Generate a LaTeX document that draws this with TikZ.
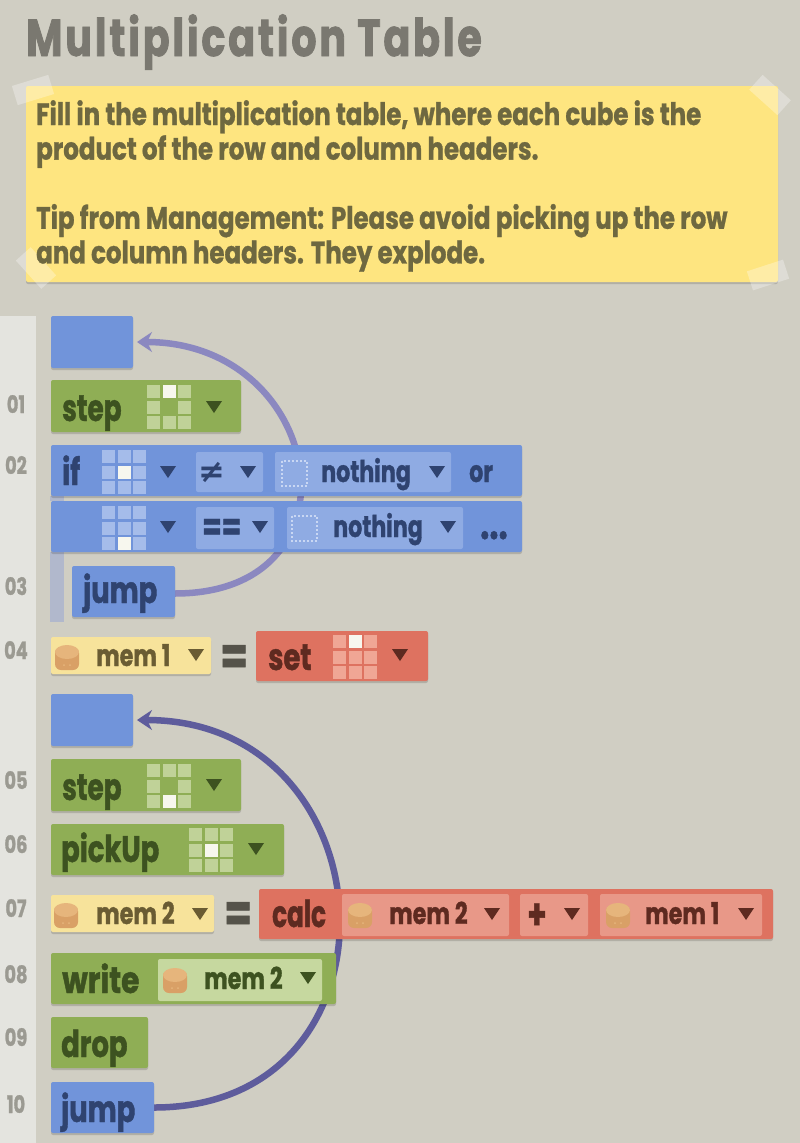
\documentclass[tikz,border=0pt]{standalone}
\usepackage{fontspec}
\usetikzlibrary{arrows.meta}
\usetikzlibrary{shadows}
\newfontfamily\gamefont[FakeStretch=0.74,FakeBold=1.1]{Poppins}
\newfontfamily\notefont[FakeStretch=0.79,FakeBold=0.9]{Poppins}
\newfontfamily\titlefont[FakeStretch=0.76,FakeBold=1.6,LetterSpace=5.5]{Poppins}
\newfontfamily\symfont{DejaVu Sans}

\definecolor{floorcol}{HTML}{D0CEC3}
\definecolor{guttercol}{HTML}{E4E4DF}
\definecolor{notecol}{HTML}{FEE580}
\definecolor{notetext}{HTML}{6E6840}
\definecolor{titlecol}{HTML}{7A7870}
\definecolor{numcol}{HTML}{9B9A92}
\definecolor{eqcol}{HTML}{55534A}
\definecolor{greencol}{HTML}{8FAE55}
\definecolor{greensub}{HTML}{C6D89F}
\definecolor{greencell}{HTML}{C0D298}
\definecolor{greentext}{HTML}{3D5220}
\definecolor{bluecol}{HTML}{7194DA}
\definecolor{bluesub}{HTML}{8FABE3}
\definecolor{bluecell}{HTML}{A5BCEA}
\definecolor{bluetext}{HTML}{2F4370}
\definecolor{redcol}{HTML}{DE7260}
\definecolor{redsub}{HTML}{E89888}
\definecolor{redcell}{HTML}{F0A695}
\definecolor{redtext}{HTML}{5E2A20}
\definecolor{varcol}{HTML}{F7E39B}
\definecolor{vartext}{HTML}{6A5C33}
\definecolor{barcol}{HTML}{B1B8CC}
\definecolor{hicol}{HTML}{F7F7EE}
\definecolor{cylcol}{HTML}{D9A066}
\definecolor{cyltop}{HTML}{E6B57C}
\definecolor{looplight}{HTML}{8B88C0}
\definecolor{loopdark}{HTML}{5E5C9C}

\tikzset{
every picture/.style={
line width=1pt
},
blockbase/.style={rectangle,draw=none,inner sep=0pt,outer sep=0pt,rounded corners=2pt,
  drop shadow={shadow xshift=0pt,shadow yshift=-2pt,fill=black,opacity=.15}},
flatbase/.style={rectangle,draw=none,inner sep=0pt,outer sep=0pt,rounded corners=2pt},
greenblock/.style={blockbase,fill=greencol},
blueblock/.style={blockbase,fill=bluecol},
redblock/.style={blockbase,fill=redcol},
varblock/.style={blockbase,fill=varcol},
greenarg/.style={flatbase,fill=greensub},
bluearg/.style={flatbase,fill=bluesub},
redarg/.style={flatbase,fill=redsub},
tape/.style={rectangle,fill=white,opacity=.3,inner sep=0pt,minimum width=38pt,minimum height=20pt},
verb/.style={anchor=base west,inner sep=0pt,font=\gamefont\bfseries\fontsize{37}{37}\selectfont},
argtext/.style={anchor=base west,inner sep=0pt,font=\gamefont\bfseries\fontsize{30}{30}\selectfont},
eqsign/.style={anchor=base west,inner sep=0pt,text=eqcol,font=\gamefont\bfseries\fontsize{54}{54}\selectfont},
linenum/.style={anchor=base,inner sep=0pt,text=numcol,font=\gamefont\bfseries\fontsize{24}{24}\selectfont},
loopline/.style={line width=6.5pt,-{Stealth[length=15pt,width=20pt]},shorten >=4pt},
}

% rectangle block given by its corners
\newcommand{\blk}[6]{\node [#1,minimum width={#4-#2},minimum height={#5-#3}] at ({(#2+#4)/2},{(#3+#5)/2}) (#6) {};}
% dropdown marker
\newcommand{\drop}[3]{\fill [#3] ({#1-8},{#2-6}) -- ({#1+8},{#2-6}) -- (#1,{#2+6}) -- cycle;}
% x, y, cell colour, column and row of the white cell, colour of the middle cell
\newcommand{\dirgrid}[6]{
  \foreach \cl in {0,1,2} \foreach \rw in {0,1,2}
    \fill [#3] ({#1+15.5*\cl},{#2+15.5*\rw}) rectangle +(13,13);
  \fill [#6] ({#1+15.5},{#2+15.5}) rectangle +(13,13);
  \fill [hicol] ({#1+15.5*#4},{#2+15.5*#5}) rectangle +(13,13);
}
% memory barrel
\newcommand{\barrel}[2]{
  \fill [cylcol,rounded corners=6pt] (#1,{#2+2}) rectangle ({#1+24},{#2+25});
  \fill [cyltop] ({#1+12},{#2+7}) ellipse (12 and 7);
  \fill [cyltop] ({#1+9},{#2+20}) circle (1);
  \fill [cyltop] ({#1+15},{#2+20}) circle (1);
}
% nothing marker
\newcommand{\nothingbox}[2]{
  \draw [bluecell!60!white,line width=2pt,dotted] (#1,#2) rectangle +(25,25);
}

\pgfdeclarelayer{floor}
\pgfdeclarelayer{loops}
\pgfsetlayers{floor,loops,main}

\begin{document}
\begin{tikzpicture}[x=1pt,y=-1pt]
  \useasboundingbox (0,0) rectangle (800,1143);
  \begin{pgfonlayer}{floor}
    \fill [floorcol] (0,0) rectangle (800,1143);
    \fill [guttercol] (0,316) rectangle (36,1143);
  \end{pgfonlayer}

  % heading and note
  \node [anchor=base west,inner sep=0pt,text=titlecol,font=\titlefont\bfseries\fontsize{52}{52}\selectfont] at (26,56) (title) {Multiplication Table};
  \blk{blockbase,fill=notecol}{26}{86}{778}{282}{note}
  \node [tape,rotate=17] at (33,90) (tapeA) {};
  \node [tape,rotate=-42] at (770,95) (tapeB) {};
  \node [tape,rotate=-48] at (36,268) (tapeC) {};
  \node [tape,rotate=18] at (768,275) (tapeD) {};
  \node [anchor=north west,inner sep=0pt,align=left,text=notetext,font=\notefont\bfseries\fontsize{31}{34.6}\selectfont] at (36,100) (notetext) {Fill in the multiplication table, where each cube is the\\product of the row and column headers.\\ \\Tip from Management: Please avoid picking up the row\\and column headers. They explode.};

  % line numbers
  \node [linenum] at (16,413) (numA) {01};
  \node [linenum] at (16,474) (numB) {02};
  \node [linenum] at (16,595) (numC) {03};
  \node [linenum] at (16,659) (numD) {04};
  \node [linenum] at (16,789) (numE) {05};
  \node [linenum] at (16,853) (numF) {06};
  \node [linenum] at (16,917) (numG) {07};
  \node [linenum] at (16,983) (numH) {08};
  \node [linenum] at (16,1046) (numI) {09};
  \node [linenum] at (16,1113) (numJ) {10};

  % first loop
  \blk{blueblock}{51}{316}{133}{368}{startA}
  \blk{greenblock}{51}{380}{241}{432}{stepA}
  \node [verb,text=greentext] at (62,421) (stepAtext) {\scalebox{.96}[1]{step}};
  \dirgrid{147}{385}{greencell}{1}{0}{greencol}
  \drop{214}{407}{greentext}

  \fill [barcol] (50,496) rectangle (64,501);
  \fill [barcol] (50,552) rectangle (64,622);
  \blk{blueblock}{51}{445}{522}{496}{ifA}
  \blk{blueblock}{51}{501}{522}{552}{ifB}
  \node [verb,text=bluetext] at (62,485) (iftext) {if};
  \dirgrid{102}{450}{bluecell}{1}{1}{bluecell}
  \drop{168}{472}{bluetext}
  \blk{bluearg}{196}{452}{263}{492}{neqbox}
  \node [inner sep=0pt,text=bluetext,font=\symfont\bfseries\fontsize{32}{32}\selectfont] at (212,472) (neqtext) {≠};
  \drop{248}{472}{bluetext}
  \blk{bluearg}{275}{452}{451}{492}{nothingA}
  \nothingbox{282}{461}
  \node [argtext,text=bluetext] at (321,482) (nothingAtext) {nothing};
  \drop{437}{472}{bluetext}
  \node [argtext,text=bluetext] at (469,482) (ortext) {or};

  \dirgrid{102}{506}{bluecell}{1}{2}{bluecell}
  \drop{168}{527}{bluetext}
  \blk{bluearg}{196}{507}{274}{549}{eqbox}
  \node [argtext,text=bluetext,font=\gamefont\bfseries\fontsize{38}{38}\selectfont] at (202,540) (eqtext) {==};
  \drop{260}{527}{bluetext}
  \blk{bluearg}{287}{507}{463}{549}{nothingB}
  \nothingbox{292}{516}
  \node [argtext,text=bluetext] at (333,537) (nothingBtext) {nothing};
  \drop{448}{527}{bluetext}
  \node [argtext,text=bluetext,font=\gamefont\bfseries\fontsize{44}{44}\selectfont] at (480,539) (dotstext) {...};

  \blk{blueblock}{72}{566}{175}{617}{jumpA}
  \node [verb,text=bluetext] at (83,603) (jumpAtext) {jump};

  \blk{varblock}{51}{637}{211}{674}{memA}
  \barrel{55}{645}
  \node [argtext,text=vartext] at (96,666) (memAtext) {mem\hspace{5pt}1};
  \drop{196}{655}{vartext}
  \node [eqsign] at (220,675) (eqA) {=};
  \blk{redblock}{256}{631}{428}{681}{setA}
  \node [verb,text=redtext] at (268,670) (setAtext) {set};
  \dirgrid{333}{635}{redcell}{1}{0}{redcell}
  \drop{400}{655}{redtext}

  % second loop
  \blk{blueblock}{51}{694}{133}{746}{startB}
  \blk{greenblock}{51}{759}{241}{811}{stepB}
  \node [verb,text=greentext] at (62,800) (stepBtext) {\scalebox{.96}[1]{step}};
  \dirgrid{147}{764}{greencell}{1}{2}{greencol}
  \drop{214}{785}{greentext}

  \blk{greenblock}{51}{824}{284}{875}{pickup}
  \node [verb,text=greentext] at (61,862) (pickuptext) {pickUp};
  \dirgrid{189}{828}{greencell}{1}{1}{greencell}
  \drop{256}{849}{greentext}

  \blk{varblock}{51}{895}{214}{932}{memB}
  \barrel{54}{903}
  \node [argtext,text=vartext] at (96,924) (memBtext) {mem\hspace{5pt}2};
  \drop{200}{914}{vartext}
  \node [eqsign] at (224,932) (eqB) {=};
  \blk{redblock}{259}{889}{773}{939}{calc}
  \node [verb,text=redtext] at (272,927) (calctext) {\scalebox{.9}[1]{calc}};
  \blk{redarg}{342}{894}{509}{936}{calcA}
  \barrel{348}{903}
  \node [argtext,text=redtext] at (389,924) (calcAtext) {mem\hspace{5pt}2};
  \drop{492}{914}{redtext}
  \blk{redarg}{520}{894}{588}{936}{calcB}
  \node [argtext,text=redtext,font=\gamefont\bfseries\fontsize{42}{42}\selectfont] at (527,929) (calcBtext) {+};
  \drop{572}{914}{redtext}
  \blk{redarg}{600}{894}{762}{936}{calcC}
  \barrel{606}{903}
  \node [argtext,text=redtext] at (645,924) (calcCtext) {mem\hspace{5pt}1};
  \drop{746}{914}{redtext}

  \blk{greenblock}{51}{953}{336}{1004}{write}
  \node [verb,text=greentext] at (62,993) (writetext) {\scalebox{1.08}[1]{write}};
  \blk{greenarg}{158}{959}{322}{1001}{writearg}
  \barrel{163}{968}
  \node [argtext,text=greentext] at (204,989) (writeargtext) {mem\hspace{5pt}2};
  \drop{308}{978}{greentext}

  \blk{greenblock}{51}{1017}{148}{1068}{dropA}
  \node [verb,text=greentext] at (61,1057) (droptext) {drop};

  \blk{blueblock}{51}{1082}{154}{1133}{jumpB}
  \node [verb,text=bluetext] at (61,1122) (jumpBtext) {jump};

  \begin{pgfonlayer}{loops}
    \draw [loopline,draw=looplight] ([yshift=-2pt]jumpA.east) to [out=0,in=0,looseness=1.93] (startA.east);
    \draw [loopline,draw=loopdark] (jumpB.east) to [out=0,in=0,looseness=1.71] (startB.east);
  \end{pgfonlayer}
\end{tikzpicture}
\end{document}
